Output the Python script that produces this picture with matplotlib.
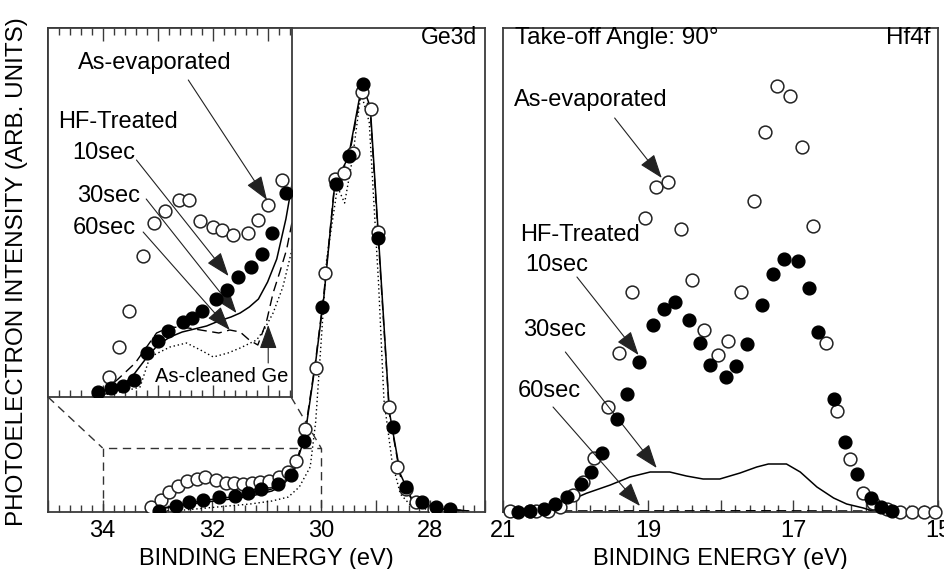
import numpy as np
import matplotlib.pyplot as plt
from matplotlib.ticker import MultipleLocator, FixedLocator, FuncFormatter

plt.rcParams['font.family'] = ['Liberation Sans', 'DejaVu Sans']

# ---------------- Ge3d, full view (binding energy eV, intensity arb.) -------------
ge_evap_e = [33.12, 32.94, 32.79, 32.62, 32.45, 32.27, 32.12, 31.93, 31.75, 31.60, 31.43,
             31.26, 31.11, 30.95, 30.77, 30.60, 30.46, 30.29, 30.10, 29.93, 29.75, 29.59,
             29.41, 29.25, 29.09, 28.95, 28.75, 28.62, 28.45, 28.26, 27.94]
ge_evap_i = [4.7, 12, 20, 26, 31, 33, 35, 32, 29, 29, 28, 29, 30, 31, 35, 40, 51, 83, 144,
             239, 333, 339, 359, 420, 403, 280, 105, 45, 23, 10, 3]

ge_10s_e = [32.96, 32.66, 32.41, 32.17, 31.87, 31.58, 31.33, 31.10, 30.79, 30.55, 30.31,
            29.98, 29.73, 29.49, 29.24, 28.95, 28.69, 28.45, 28.15, 27.90, 27.64]
ge_10s_i = [1, 6, 10, 12, 15, 16, 19, 23, 28, 37, 71, 205, 328, 356, 428, 274, 85, 25, 10, 5, 3]

ge_30s_e = [33.2, 33.0, 32.7, 32.4, 32.1, 31.8, 31.5, 31.2, 30.9, 30.7, 30.5, 30.3, 30.1,
            29.95, 29.75, 29.5, 29.25, 29.1, 28.95, 28.75, 28.55, 28.35, 28.1, 27.8, 27.5, 27.3]
ge_30s_i = [1, 3, 5, 8, 10, 12, 14, 17, 21, 27, 40, 75, 150, 215, 328, 355, 428, 405, 275,
            100, 38, 14, 6, 3, 2, 1]

ge_60s_e = ge_30s_e
ge_60s_i = [1, 3, 6, 9, 12, 14, 16, 19, 23, 29, 42, 78, 152, 218, 330, 352, 425, 400, 270,
            98, 36, 13, 6, 3, 2, 1]

ge_clean_e = [33.2, 32.9, 32.5, 32.1, 31.7, 31.3, 30.9, 30.6, 30.4, 30.2, 30.1, 30.0, 29.9,
              29.7, 29.57, 29.43, 29.27, 29.12, 28.95, 28.85, 28.7, 28.55, 28.35, 28.0, 27.6, 27.3]
ge_clean_i = [0.5, 1, 2, 4, 6, 8, 11, 15, 25, 45, 90, 170, 252, 325, 309, 352, 419, 390,
              230, 112, 50, 18, 6, 2, 1, 0.5]

# ---------------- Ge3d, magnified low-intensity region (inset) -------------------
in_evap_e = [33.00, 32.84, 32.67, 32.44, 32.26, 32.08, 31.86, 31.69, 31.51, 31.30, 31.14,
             30.97, 30.72, 30.55, 30.39, 30.17]
in_evap_i = [20, 50, 86, 141, 174, 186, 197, 197, 176, 170, 167, 162, 164, 177, 192, 217]

in_10s_e = [33.18, 32.96, 32.77, 32.59, 32.37, 32.19, 32.04, 31.79, 31.64, 31.47, 31.25,
            31.07, 30.88, 30.67, 30.50, 30.32, 30.10]
in_10s_i = [5, 9, 11, 17, 44, 56, 66, 75, 79, 86, 98, 107, 120, 130, 143, 164, 204]

in_30s_e = [33.05, 32.8, 32.6, 32.4, 32.2, 32.0, 31.8, 31.6, 31.4, 31.2, 31.0, 30.85, 30.7,
            30.55, 30.4, 30.25, 30.1, 29.95]
in_30s_i = [3, 10, 22, 38, 52, 60, 65, 68, 71, 76, 80, 84, 90, 98, 115, 138, 178, 230]

in_60s_e = [33.1, 32.85, 32.57, 32.22, 32.0, 31.7, 31.4, 31.2, 31.02, 30.85, 30.7, 30.56,
            30.42, 30.31, 30.2, 30.09, 29.95]
in_60s_i = [5, 18, 34, 64, 70, 69, 66, 64, 67, 65, 57, 52, 75, 104, 125, 147, 190]

in_clean_e = [33.1, 32.8, 32.49, 32.33, 32.0, 31.73, 31.5, 31.29, 31.05, 30.85, 30.58,
              30.45, 30.31, 30.15, 29.95]
in_clean_i = [2, 5, 10, 40, 50, 54, 47, 40, 44, 49, 57, 68, 84, 110, 160]

# ---------------- Hf4f (binding energy eV, intensity arb.) -----------------------
hf_evap_e = [20.90, 20.63, 20.54, 20.38, 20.21, 20.03, 19.89, 19.74, 19.55, 19.40, 19.22,
             19.04, 18.89, 18.73, 18.54, 18.39, 18.23, 18.04, 17.89, 17.72, 17.54, 17.39,
             17.22, 17.04, 16.88, 16.72, 16.54, 16.39, 16.22, 16.03, 15.89, 15.71, 15.52,
             15.36, 15.20, 15.04]
hf_evap_i = [1, 1, 1, 1.3, 5, 17, 30, 54, 105, 159, 220, 294, 325, 330, 283, 232, 182,
             157, 171, 220, 311, 380, 426, 416, 365, 286, 169, 101, 53, 19, 9, 3, 0.5,
             0.5, 0.5, 0.5]

hf_10s_e = [20.79, 20.63, 20.43, 20.28, 20.12, 19.93, 19.78, 19.63, 19.43, 19.29, 19.13,
            18.93, 18.78, 18.63, 18.43, 18.28, 18.14, 17.92, 17.78, 17.63, 17.43, 17.28,
            17.12, 16.93, 16.78, 16.65, 16.43, 16.28, 16.12, 15.92, 15.78, 15.63]
hf_10s_i = [0.5, 1.3, 3, 8, 15, 28, 40, 59, 93, 118, 150, 187, 203, 210, 192, 169, 147,
            135, 146, 168, 207, 238, 253, 251, 224, 180, 113, 70, 38, 14, 5, 1.3]

hf_30s_e = [20.6, 20.17, 19.85, 19.52, 19.25, 18.97, 18.70, 18.47, 18.24, 18.01, 17.73,
            17.50, 17.34, 17.09, 16.90, 16.67, 16.44, 16.26, 16.03, 15.91, 15.80]
hf_30s_i = [1, 8.7, 18.7, 27, 35, 40, 40, 36, 33, 33, 39, 45, 48, 48, 40, 25, 14, 8, 4,
            1.3, 0.5]

hf_60s_e = [20.6, 19.5, 18.5, 17.5, 16.5, 15.9]
hf_60s_i = [1, 1.2, 1.2, 1.3, 1.1, 1]

# ---------------- figure -----------------------------------------------------------
W, H = 945, 569
fig = plt.figure(figsize=(W / 100, H / 100), dpi=100)
ax1 = fig.add_axes([48 / W, 57 / H, 437 / W, 484 / H])
ax2 = fig.add_axes([503 / W, 57 / H, 435 / W, 484 / H])

FS = 17
frame = '#3a3a3a'
open_kw = dict(ls='none', marker='o', ms=9.2, mfc='white', mec='#222222', mew=1.1, zorder=3)
fill_kw = dict(ls='none', marker='o', ms=9.2, mfc='black', mec='black', mew=1.0, zorder=4)
arrow_kw = dict(arrowstyle='-|>,head_length=1.0,head_width=0.36', color='#222222', lw=0.8,
                shrinkA=0, shrinkB=0, mutation_scale=15)


def style(ax, xlim, odd_labels):
    ax.set_xlim(*xlim)
    ax.set_ylim(0, 484)
    for s in ax.spines.values():
        s.set_color(frame)
        s.set_linewidth(1.3)
    ax.set_yticks([])
    ax.xaxis.set_major_locator(MultipleLocator(1))
    ax.xaxis.set_minor_locator(MultipleLocator(0.2))
    ax.xaxis.set_major_formatter(
        FuncFormatter(lambda v, p: f'{v:.0f}' if round(v) % 2 == odd_labels else ''))
    ax.tick_params(axis='x', which='major', direction='in', length=9, width=1.0,
                   color=frame, labelsize=FS, pad=6)
    ax.tick_params(axis='x', which='minor', direction='in', length=5, width=1.0, color=frame)
    ax.set_xlabel('BINDING ENERGY (eV)', fontsize=FS, labelpad=4)


# ---- left: Ge3d
style(ax1, (35, 27), 0)
ax1.plot(ge_30s_e, ge_30s_i, color='black', lw=1.1, zorder=2)
ax1.plot(ge_60s_e, ge_60s_i, color='black', lw=1.0, ls=(0, (7, 4)), zorder=2)
ax1.plot(ge_clean_e, ge_clean_i, color='black', lw=1.0, ls=(0, (1, 2)), zorder=2)
ax1.plot(ge_evap_e, ge_evap_i, **open_kw)
ax1.plot(ge_10s_e, ge_10s_i, **fill_kw)
ax1.text(27.14, 474, 'Ge3d', fontsize=16.5, ha='right', va='center')

# zoom box and connectors
dash = dict(color='#333333', lw=1.0, ls=(0, (6, 4)), zorder=2)
ax1.plot([34, 34, 30, 30], [0, 64, 64, 0], **dash)
ax1.plot([35, 34], [115, 64], **dash)
ax1.plot([30.55, 30], [115, 64], **dash)

# inset
ins = ax1.inset_axes([0, 115 / 484, 244 / 437, 369 / 484])
ins.set_xlim(34, 30)
ins.set_ylim(0, 369)
ins.set_facecolor('white')
for s in ins.spines.values():
    s.set_color(frame)
    s.set_linewidth(1.3)
ins.set_yticks([])
ins.xaxis.set_major_locator(FixedLocator(34 - 0.9 * np.arange(1, 5)))
ins.xaxis.set_minor_locator(FixedLocator(34 - 0.18 * np.arange(1, 23)))
ins.tick_params(axis='x', which='both', direction='in', top=True, bottom=True,
                labelbottom=False, color=frame, width=1.0)
ins.tick_params(axis='x', which='major', length=9)
ins.tick_params(axis='x', which='minor', length=5)
ins.plot(in_30s_e, in_30s_i, color='black', lw=1.1, zorder=2)
ins.plot(in_60s_e, in_60s_i, color='black', lw=1.0, ls=(0, (7, 4)), zorder=2)
ins.plot(in_clean_e, in_clean_i, color='black', lw=1.0, ls=(0, (1, 2)), zorder=2)
ins.plot(in_evap_e, in_evap_i, **open_kw)
ins.plot(in_10s_e, in_10s_i, **fill_kw)

ins.text(33.51, 334, 'As-evaporated', fontsize=FS, va='center')
ins.text(33.84, 275, 'HF-Treated', fontsize=FS, va='center')
ins.text(33.61, 244, '10sec', fontsize=FS, va='center')
ins.text(33.52, 201, '30sec', fontsize=FS, va='center')
ins.text(33.59, 169, '60sec', fontsize=FS, va='center')
ins.text(32.25, 20, 'As-cleaned Ge', fontsize=14.5, va='center')
ins.annotate('', xy=(30.41, 197), xytext=(31.70, 317), arrowprops=arrow_kw)
ins.annotate('', xy=(31.04, 121), xytext=(32.55, 237), arrowprops=arrow_kw)
ins.annotate('', xy=(30.91, 84), xytext=(32.39, 198), arrowprops=arrow_kw)
ins.annotate('', xy=(31.02, 67), xytext=(32.44, 165), arrowprops=arrow_kw)
ins.annotate('', xy=(30.39, 72), xytext=(30.39, 34), arrowprops=arrow_kw)

# ---- right: Hf4f
style(ax2, (21, 15), 1)
ax2.plot(hf_30s_e, hf_30s_i, color='black', lw=1.1, zorder=2)
ax2.plot(hf_60s_e, hf_60s_i, color='black', lw=1.0, ls=(0, (7, 4)), zorder=2)
ax2.plot(hf_evap_e, hf_evap_i, clip_on=False, **open_kw)
ax2.plot(hf_10s_e, hf_10s_i, clip_on=False, **fill_kw)

ax2.text(20.83, 474, 'Take-off Angle: 90°', fontsize=17.5, va='center')
ax2.text(15.11, 474, 'Hf4f', fontsize=17.5, ha='right', va='center')
ax2.text(20.85, 412, 'As-evaporated', fontsize=FS, va='center')
ax2.text(20.77, 277, 'HF-Treated', fontsize=FS, va='center')
ax2.text(20.70, 247, '10sec', fontsize=FS, va='center')
ax2.text(20.72, 182, '30sec', fontsize=FS, va='center')
ax2.text(20.79, 121, '60sec', fontsize=FS, va='center')
ax2.annotate('', xy=(18.81, 334), xytext=(19.46, 394), arrowprops=arrow_kw)
ax2.annotate('', xy=(19.13, 157), xytext=(19.98, 235), arrowprops=arrow_kw)
ax2.annotate('', xy=(18.88, 44), xytext=(20.14, 160), arrowprops=arrow_kw)
ax2.annotate('', xy=(19.11, 6), xytext=(20.31, 105), arrowprops=arrow_kw)

fig.text(17 / W, 1 - 272 / H, 'PHOTOELECTRON INTENSITY (ARB. UNITS)', rotation=90,
         fontsize=17.5, ha='center', va='center')

fig.savefig('out.png', dpi=100)
